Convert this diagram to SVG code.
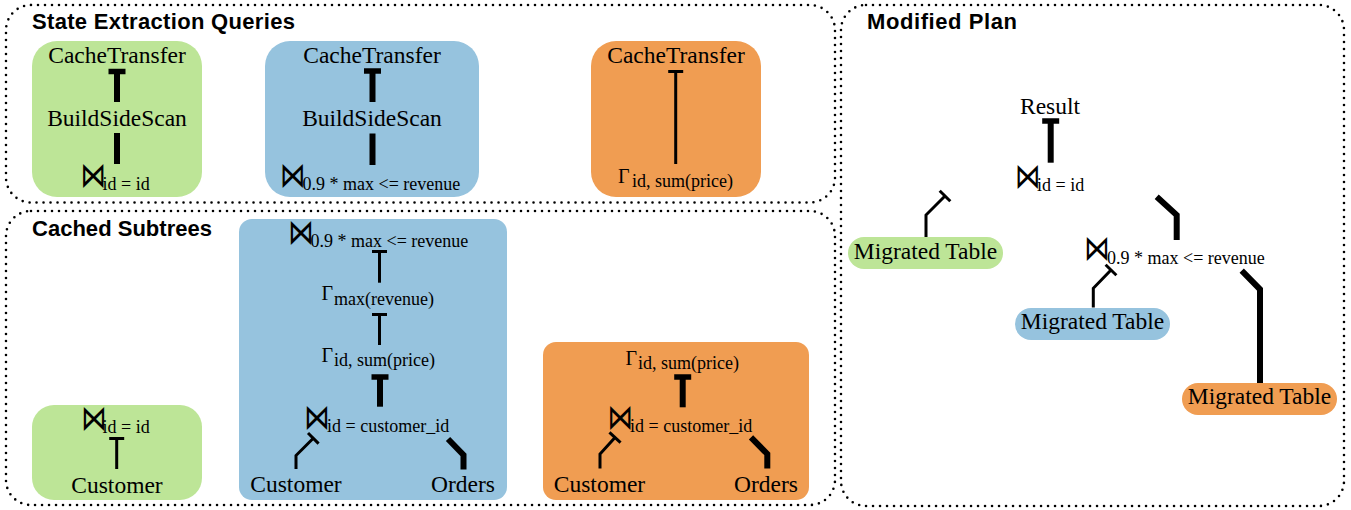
<svg xmlns="http://www.w3.org/2000/svg" width="1351" height="510" viewBox="0 0 1351 510">
<style>
.panel{fill:none;stroke:#000;stroke-width:2.6;stroke-dasharray:0 7;stroke-linecap:round}
.title{font-family:"Liberation Sans",Arial,sans-serif;font-weight:bold;font-size:22px;fill:#000}
.lbl{font-family:"Liberation Serif","Times New Roman",serif;font-size:23.5px;fill:#000}
.mid{text-anchor:middle}
.sub{font-family:"Liberation Serif","Times New Roman",serif;font-size:18px;fill:#000}
.bt{font-family:"DejaVu Sans",sans-serif;font-size:25.5px;fill:#000}
.gam{font-family:"Liberation Serif","Times New Roman",serif;font-size:20px}
.edge{fill:none;stroke:#000;stroke-linejoin:miter;stroke-linecap:butt}
.thin{stroke-width:3}
.thick{stroke-width:6}
.g{fill:#bde597}.b{fill:#96c3de}.o{fill:#f09d52}
</style>
<defs>
<marker id="teeThin" markerUnits="userSpaceOnUse" markerWidth="24" markerHeight="24" viewBox="-12 -12 24 24" refX="0" refY="0" orient="auto" overflow="visible">
<path d="M0,-7.5 L0,7.5" stroke="#000" stroke-width="3" fill="none"/>
</marker>
<marker id="teeThick" markerUnits="userSpaceOnUse" markerWidth="24" markerHeight="24" viewBox="-12 -12 24 24" refX="0" refY="0" orient="auto" overflow="visible">
<path d="M0,-8.5 L0,8.5" stroke="#000" stroke-width="5.5" fill="none"/>
</marker>
</defs>
<rect width="1351" height="510" fill="#fff"/>

<g id="panels">
<rect class="panel" x="6" y="5" width="829" height="197.5" rx="25"/>
<rect class="panel" x="6" y="211" width="829" height="294" rx="25"/>
<rect class="panel" x="841" y="5" width="503" height="501" rx="25"/>
<text class="title" x="32" y="29" textLength="263">State Extraction Queries</text>
<text class="title" x="32" y="236" textLength="180">Cached Subtrees</text>
<text class="title" x="867" y="29" textLength="150">Modified Plan</text>
</g>

<g id="boxes">
<rect class="g" x="32" y="41" width="170" height="156" rx="25"/>
<rect class="b" x="265" y="41" width="214" height="156" rx="25"/>
<rect class="o" x="591" y="41" width="170" height="156" rx="25"/>
<rect class="g" x="32" y="405" width="170" height="95" rx="22"/>
<rect class="b" x="239" y="219" width="268" height="281" rx="13"/>
<rect class="o" x="543" y="342" width="266" height="158" rx="13"/>
</g>

<g id="connectors">
<path class="edge thick" d="M117,102 L117,71.5" marker-end="url(#teeThick)"/>
<path class="edge thick" d="M117,164 L117,133"/>
<path class="edge thick" d="M372.5,102 L372.5,71" marker-end="url(#teeThick)"/>
<path class="edge thick" d="M372.5,165 L372.5,133.5"/>
<path class="edge thin" d="M675.7,164 L675.7,71.5" marker-end="url(#teeThin)"/>
<path class="edge thin" d="M116.7,469 L116.7,438.5" marker-end="url(#teeThin)"/>
<path class="edge thin" d="M379.5,282.7 L379.5,251.5" marker-end="url(#teeThin)"/>
<path class="edge thin" d="M379.5,345 L379.5,314.5" marker-end="url(#teeThin)"/>
<path class="edge thick" d="M380,406.7 L380,377" marker-end="url(#teeThick)"/>
<path class="edge thin" d="M296,469 L296,455.5 L313.3,438.3" marker-end="url(#teeThin)"/>
<path class="edge thick" d="M463.5,469.5 L463.5,455 L448,439"/>
<path class="edge thick" d="M682.7,407.3 L682.7,377" marker-end="url(#teeThick)"/>
<path class="edge thin" d="M600,468.5 L600,454 L615,437.5" marker-end="url(#teeThin)"/>
<path class="edge thick" d="M767.3,468.5 L767.3,454 L751,437.3"/>
<path class="edge thick" d="M1050.7,162.7 L1050.7,121" marker-end="url(#teeThick)"/>
<path class="edge thin" d="M926,239.5 L926,215 L945,196" marker-end="url(#teeThin)"/>
<path class="edge thick" d="M1176.7,240 L1176.7,215 L1156.7,196.7"/>
<path class="edge thin" d="M1093.3,307.5 L1093.3,288.3 L1111,270" marker-end="url(#teeThin)"/>
<path class="edge thick" d="M1260,383 L1260,289.3 L1241.7,270.7"/>
</g>

<g id="se-green">
<g id="se-green-cachetransfer"><text class="lbl mid" x="117" y="63">CacheTransfer</text></g>
<g id="se-green-buildsidescan"><text class="lbl mid" x="117" y="126">BuildSideScan</text></g>
<g id="se-green-join"><text class="bt" transform="translate(80.3,187) scale(1,1.38)">⋈</text><text class="sub" x="102.5" y="190">id = id</text></g>
</g>

<g id="se-blue">
<g id="se-blue-cachetransfer"><text class="lbl mid" x="372" y="63">CacheTransfer</text></g>
<g id="se-blue-buildsidescan"><text class="lbl mid" x="372" y="126">BuildSideScan</text></g>
<g id="se-blue-join"><text class="bt" transform="translate(279.7,187) scale(1,1.38)">⋈</text><text class="sub" x="302.5" y="190">0.9 * max &lt;= revenue</text></g>
</g>

<g id="se-orange">
<g id="se-orange-cachetransfer"><text class="lbl mid" x="676" y="63">CacheTransfer</text></g>
<g id="se-orange-agg"><text class="lbl"><tspan class="gam" x="618" y="183">Γ</tspan><tspan class="sub" x="632" y="187">id, sum(price)</tspan></text></g>
</g>

<g id="cs-green">
<g id="cs-green-join"><text class="bt" transform="translate(81,430) scale(1,1.38)">⋈</text><text class="sub" x="102.5" y="433">id = id</text></g>
<g id="cs-green-customer"><text class="lbl mid" x="117" y="493">Customer</text></g>
</g>

<g id="cs-blue">
<g id="cs-blue-join-top"><text class="bt" transform="translate(288,243.5) scale(1,1.38)">⋈</text><text class="sub" x="310.5" y="247">0.9 * max &lt;= revenue</text></g>
<g id="cs-blue-agg-max"><text class="lbl"><tspan class="gam" x="321.5" y="300">Γ</tspan><tspan class="sub" x="334" y="304.5">max(revenue)</tspan></text></g>
<g id="cs-blue-agg-sum"><text class="lbl"><tspan class="gam" x="321.5" y="361.5">Γ</tspan><tspan class="sub" x="334" y="366">id, sum(price)</tspan></text></g>
<g id="cs-blue-join"><text class="bt" transform="translate(304,428.5) scale(1,1.38)">⋈</text><text class="sub" x="327" y="432">id = customer_id</text></g>
<g id="cs-blue-customer"><text class="lbl mid" x="296" y="492">Customer</text></g>
<g id="cs-blue-orders"><text class="lbl mid" x="463" y="492">Orders</text></g>
</g>

<g id="cs-orange">
<g id="cs-orange-agg"><text class="lbl"><tspan class="gam" x="625.5" y="364.5">Γ</tspan><tspan class="sub" x="638" y="368.5">id, sum(price)</tspan></text></g>
<g id="cs-orange-join"><text class="bt" transform="translate(607.3,428.5) scale(1,1.38)">⋈</text><text class="sub" x="630" y="432">id = customer_id</text></g>
<g id="cs-orange-customer"><text class="lbl mid" x="599.5" y="492">Customer</text></g>
<g id="cs-orange-orders"><text class="lbl mid" x="766" y="492">Orders</text></g>
</g>

<g id="mp-result"><text class="lbl mid" x="1050" y="114">Result</text></g>
<g id="mp-join-top"><text class="bt" transform="translate(1014.7,187.5) scale(1,1.38)">⋈</text><text class="sub" x="1037" y="190.5">id = id</text></g>
<g id="mp-join"><text class="bt" transform="translate(1084,260) scale(1,1.38)">⋈</text><text class="sub" x="1107" y="263.5">0.9 * max &lt;= revenue</text></g>
<g id="mp-migrated-green">
<rect class="g" x="848" y="237" width="155" height="32" rx="16"/>
<text class="lbl mid" x="925.5" y="258.5">Migrated Table</text>
</g>
<g id="mp-migrated-blue">
<rect class="b" x="1015" y="308" width="155" height="32" rx="16"/>
<text class="lbl mid" x="1092.5" y="329">Migrated Table</text>
</g>
<g id="mp-migrated-orange">
<rect class="o" x="1182" y="383" width="155" height="32" rx="16"/>
<text class="lbl mid" x="1259.5" y="404">Migrated Table</text>
</g>
</svg>
